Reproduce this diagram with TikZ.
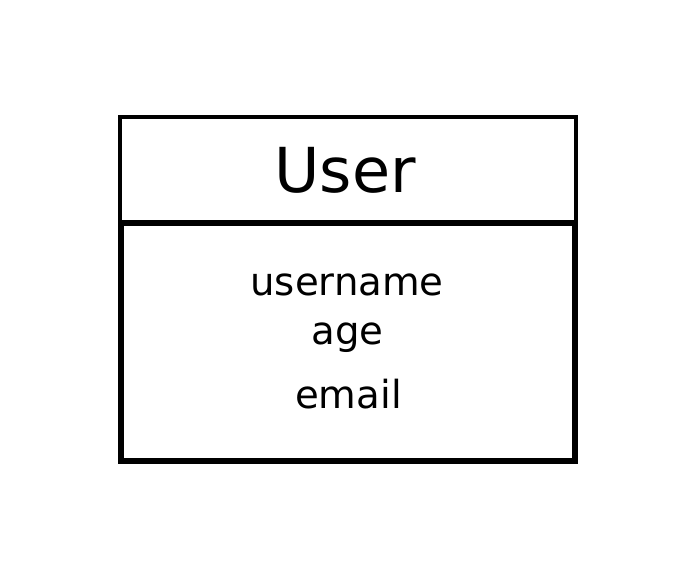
\documentclass[tikz,border=0pt]{standalone}
\usepackage{fontspec}
\setmainfont{DejaVu Sans}
\begin{document}
\begin{tikzpicture}[x=0.75pt,y=-0.75pt,%
% common options for the class boxes:
headbox/.style = {draw, line width=3pt},
bodybox/.style = {draw, line width=4.5pt},
% common options for the texts:
title/.style = {anchor=base, inner sep=0, font=\fontsize{46.5}{50}\selectfont},
field/.style = {anchor=base, inner sep=0, font=\fontsize{29}{32}\selectfont}]
\useasboundingbox (0,0) rectangle (696,580);
\draw[headbox] (120,117) rectangle (576,223);
\draw[bodybox] (121,223) rectangle (575,461);
\node[title] (User) at (345,193) {User};
\node[field] (F1) at (347,296) {username};
\node[field] (F2) at (347.5,345) {age};
\node[field] (F3) at (348.5,409) {email};
\end{tikzpicture}
\end{document}
